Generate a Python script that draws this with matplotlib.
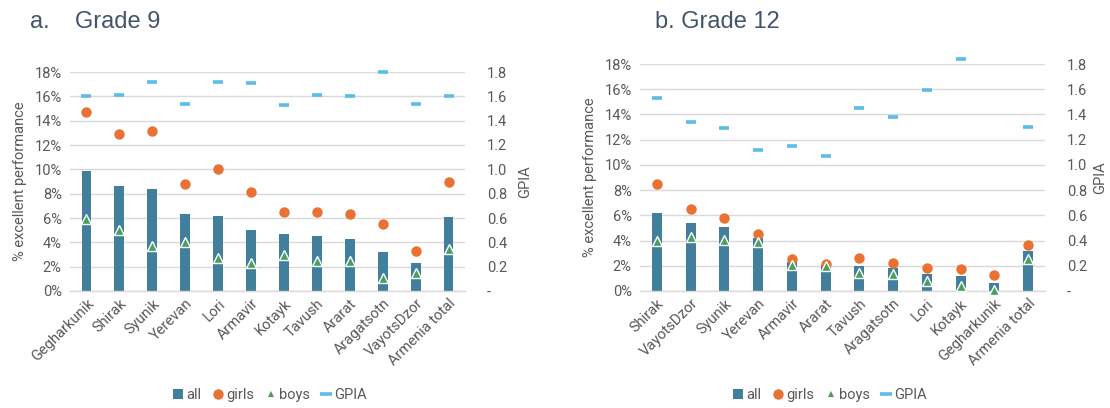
import matplotlib
matplotlib.use("Agg")
import matplotlib.pyplot as plt
from matplotlib.lines import Line2D
from matplotlib.patches import Patch
from matplotlib.ticker import FixedLocator, FuncFormatter

plt.rcParams['font.family'] = ['Roboto', 'DejaVu Sans']

nan = float('nan')

# Grade 9
regions_g9 = ["Gegharkunik", "Shirak", "Syunik", "Yerevan", "Lori", "Armavir",
              "Kotayk", "Tavush", "Ararat", "Aragatsotn", "VayotsDzor", "Armenia total"]
all_g9 = [9.9, 8.6, 8.35, 6.3, 6.2, 5.0, 4.7, 4.55, 4.3, 3.2, 2.3, 6.1]
girls_g9 = [14.7, 12.9, 13.15, 8.8, 10.05, 8.1, 6.5, 6.5, 6.3, 5.5, 3.25, 8.95]
boys_g9 = [5.95, 5.0, 3.7, 4.05, 2.75, 2.3, 2.95, 2.45, 2.45, 1.05, 1.45, 3.45]
gpia_g9 = [1.60, 1.61, 1.72, 1.54, 1.72, 1.71, 1.53, 1.61, 1.60, 1.80, 1.54, 1.60]

# Grade 12 (no GPIA for Gegharkunik: no boys at excellent level)
regions_g12 = ["Shirak", "VayotsDzor", "Syunik", "Yerevan", "Armavir", "Ararat",
               "Tavush", "Aragatsotn", "Lori", "Kotayk", "Gegharkunik", "Armenia total"]
all_g12 = [6.2, 5.43, 5.04, 4.24, 2.3, 2.05, 2.0, 1.83, 1.38, 1.17, 0.66, 3.15]
girls_g12 = [8.5, 6.5, 5.8, 4.5, 2.55, 2.17, 2.6, 2.23, 1.83, 1.75, 1.3, 3.66]
boys_g12 = [3.98, 4.27, 4.08, 3.87, 2.09, 1.99, 1.4, 1.35, 0.8, 0.37, 0.05, 2.55]
gpia_g12 = [1.53, 1.34, 1.29, 1.12, 1.15, 1.07, 1.45, 1.38, 1.59, 1.84, nan, 1.30]

C_ALL = "#417f9c"
C_GIRLS = "#e97132"
C_BOYS = "#4a9f5d"
C_GPIA = "#5cbde6"
C_TEXT = "#595959"
C_GRID = "#d9d9d9"
C_TITLE = "#44546a"

fig = plt.figure(figsize=(11.1, 4.08), dpi=100)


def panel(rect, cats, v_all, v_girls, v_boys, v_gpia, gpia_pad):
    ax = fig.add_axes(rect)
    x = list(range(len(cats)))
    ax.bar(x, [v / 100 for v in v_all], width=0.3, color=C_ALL, zorder=2)
    ax.plot(x, [v / 100 for v in v_girls], 'o', color=C_GIRLS, ms=7.5, mew=0,
            zorder=3, clip_on=False)
    ax.plot(x, [v / 100 for v in v_boys], '^', color=C_BOYS, ms=7,
            mec='white', mew=1.0, zorder=4, clip_on=False)
    ax.set_xlim(-0.5, len(cats) - 0.5)
    ax.set_ylim(0, 0.18)
    ax.yaxis.set_major_locator(FixedLocator([i * 0.02 for i in range(10)]))
    ax.yaxis.set_major_formatter(FuncFormatter(lambda v, p: f"{v * 100:.0f}%"))
    ax.grid(axis='y', color=C_GRID, lw=1.0, zorder=0)
    ax.set_axisbelow(True)
    for s in ('top', 'right', 'left'):
        ax.spines[s].set_visible(False)
    ax.spines['bottom'].set_color(C_GRID)
    ax.spines['bottom'].set_linewidth(1.0)
    ax.set_xticks(x)
    ax.set_xticklabels(cats, rotation=45, ha='right', rotation_mode='anchor')
    ax.tick_params(axis='y', length=0, colors=C_TEXT, labelsize=10.5, pad=6)
    ax.tick_params(axis='x', length=0, colors=C_TEXT, labelsize=10.5, pad=4)
    ax.set_ylabel("% excellent performance", color=C_TEXT, fontsize=10.5, labelpad=5)

    ax2 = ax.twinx()
    ax2.plot(x, v_gpia, '_', color=C_GPIA, ms=7, mew=2.6, zorder=3, clip_on=False)
    ax2.set_ylim(0, 1.8)
    ax2.yaxis.set_major_locator(FixedLocator([i * 0.2 for i in range(10)]))
    ax2.yaxis.set_major_formatter(
        FuncFormatter(lambda v, p: "-" if abs(v) < 1e-9 else f"{v:.1f}"))
    for s in ax2.spines.values():
        s.set_visible(False)
    ax2.tick_params(axis='y', length=0, colors=C_TEXT, labelsize=10.5, pad=16)
    ax2.set_ylabel("GPIA", color=C_TEXT, fontsize=10.5, labelpad=gpia_pad)
    return ax


panel([70 / 1110, 1 - 291 / 408, 395 / 1110, 219 / 408],
      regions_g9, all_g9, girls_g9, boys_g9, gpia_g9, 8)
panel([640 / 1110, 1 - 291 / 408, 405 / 1110, 227 / 408],
      regions_g12, all_g12, girls_g12, boys_g12, gpia_g12, 4)

handles = [
    Patch(facecolor=C_ALL, edgecolor='none'),
    Line2D([], [], ls='none', marker='o', color=C_GIRLS, ms=7.5, mew=0),
    Line2D([], [], ls='none', marker='^', color=C_BOYS, ms=4.5, mew=0),
    Line2D([], [], ls='none', marker='_', color=C_GPIA, ms=8, mew=2.6),
]
labels = ["all", "girls", "boys", "GPIA"]
for cx in (270 / 1110, 830 / 1110):
    fig.legend(handles, labels, loc='center', bbox_to_anchor=(cx, 1 - 395 / 408),
               ncol=4, frameon=False, fontsize=10.5, labelcolor=C_TEXT,
               handlelength=0.7, handleheight=0.7, handletextpad=0.2,
               columnspacing=0.8, borderaxespad=0)

title_font = dict(family=['Liberation Sans', 'DejaVu Sans'], fontsize=17,
                  color=C_TITLE, va='baseline')
fig.text(30 / 1110, 1 - 28 / 408, "a.", **title_font)
fig.text(75 / 1110, 1 - 28 / 408, "Grade 9", **title_font)
fig.text(655 / 1110, 1 - 28 / 408, "b. Grade 12", **title_font)

fig.savefig("out.png", dpi=100, facecolor='white')
